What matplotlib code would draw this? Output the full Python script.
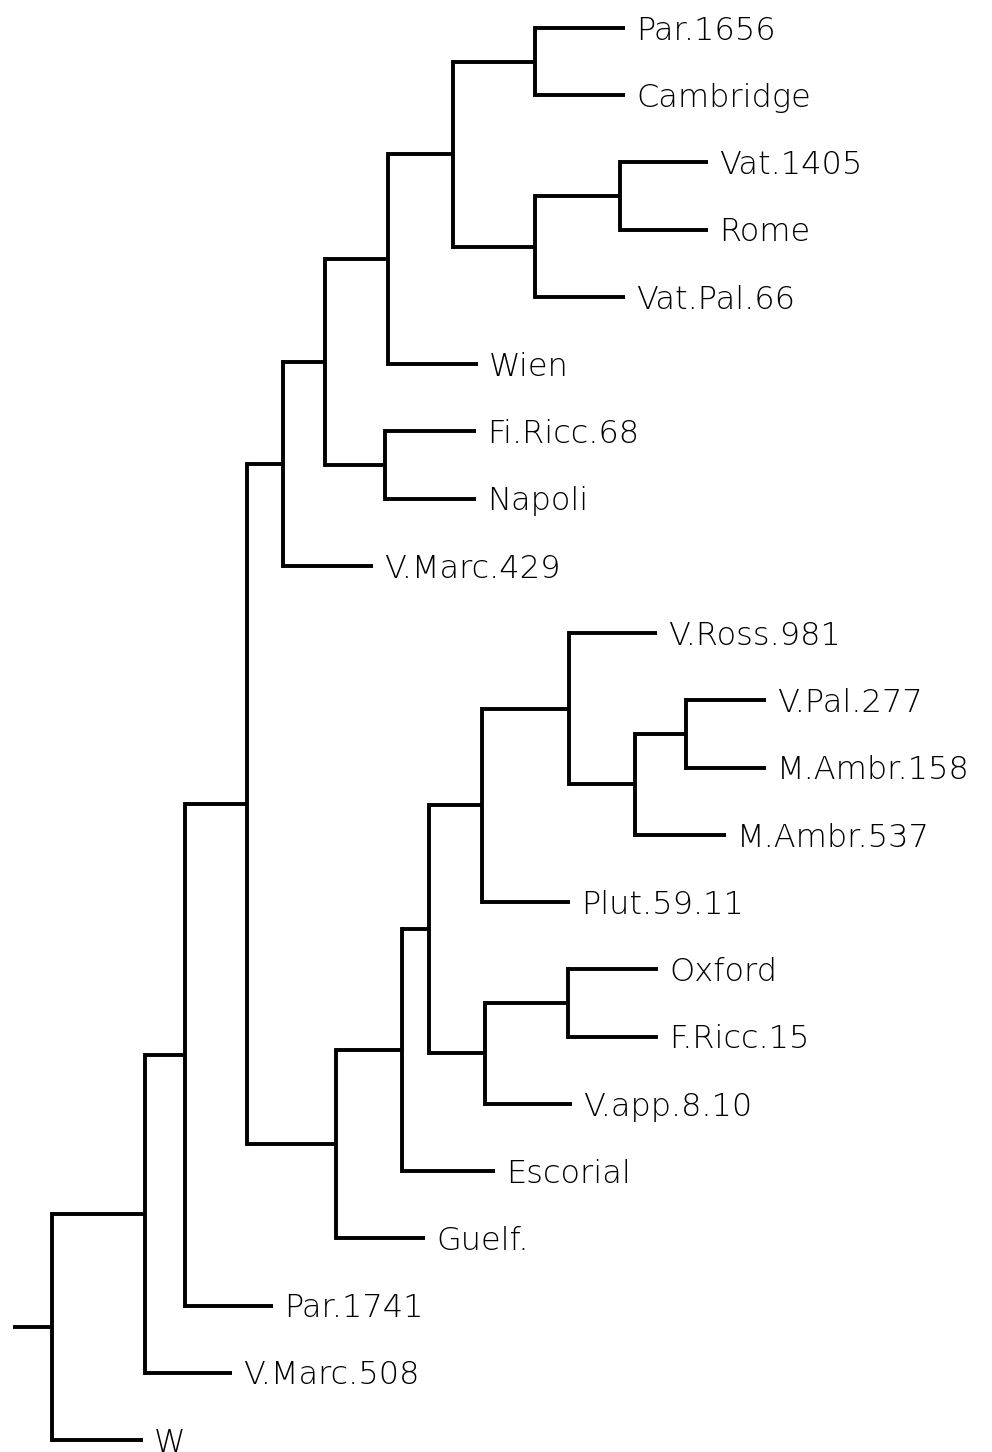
import matplotlib
matplotlib.use("Agg")
import matplotlib.pyplot as plt

# leaves, top to bottom
leaves = ["Par.1656", "Cambridge", "Vat.1405", "Rome", "Vat.Pal.66", "Wien",
          "Fi.Ricc.68", "Napoli", "V.Marc.429", "V.Ross.981", "V.Pal.277",
          "M.Ambr.158", "M.Ambr.537", "Plut.59.11", "Oxford", "F.Ricc.15",
          "V.app.8.10", "Escorial", "Guelf.", "Par.1741", "V.Marc.508", "W"]
# depth of each leaf tip
tip_x = [625, 625, 708, 708, 625, 478, 476, 476, 373, 657, 766, 766, 726,
         570, 658, 658, 572, 495, 425, 273, 232, 143]

# internal nodes: (name, child1, child2, depth)
merges = [
    ("n1", "Par.1656", "Cambridge", 535),
    ("n2", "Vat.1405", "Rome", 620),
    ("n3", "n2", "Vat.Pal.66", 535),
    ("n4", "n1", "n3", 453),
    ("n5", "n4", "Wien", 388),
    ("n6", "Fi.Ricc.68", "Napoli", 385),
    ("n7", "n5", "n6", 325),
    ("n8", "n7", "V.Marc.429", 283),
    ("n9", "V.Pal.277", "M.Ambr.158", 686),
    ("n10", "n9", "M.Ambr.537", 635),
    ("n11", "V.Ross.981", "n10", 569),
    ("n12", "n11", "Plut.59.11", 482),
    ("n13", "Oxford", "F.Ricc.15", 568),
    ("n14", "n13", "V.app.8.10", 485),
    ("n15", "n12", "n14", 429),
    ("n16", "n15", "Escorial", 402),
    ("n17", "n16", "Guelf.", 336),
    ("n18", "n8", "n17", 247),
    ("n19", "n18", "Par.1741", 185),
    ("n20", "n19", "V.Marc.508", 145),
    ("root", "n20", "W", 52),
]
root_stub = 13

fig = plt.figure(figsize=(9.92, 14.52), dpi=100)
ax = fig.add_axes([0, 0, 1, 1])

pos = {}
for i, (name, x) in enumerate(zip(leaves, tip_x)):
    pos[name] = (x, i)

lw = 2.8
for name, a, b, x in merges:
    xa, ya = pos[a]
    xb, yb = pos[b]
    ax.plot([x, x], [ya, yb], color="black", lw=lw, solid_capstyle="projecting")
    ax.plot([x, xa], [ya, ya], color="black", lw=lw, solid_capstyle="butt")
    ax.plot([x, xb], [yb, yb], color="black", lw=lw, solid_capstyle="butt")
    pos[name] = (x, (ya + yb) / 2)

rx, ry = pos["root"]
ax.plot([root_stub, rx], [ry, ry], color="black", lw=lw, solid_capstyle="butt")

for i, (name, x) in enumerate(zip(leaves, tip_x)):
    ax.text(x + 11, i + 0.04, name, fontsize=23, family="DejaVu Sans", weight="light",
            va="center", ha="left", color="black")

ax.set_xlim(0, 992)
ax.set_ylim(21.178, -0.4164)
ax.axis("off")

fig.savefig("out.png", dpi=100, facecolor="white")
